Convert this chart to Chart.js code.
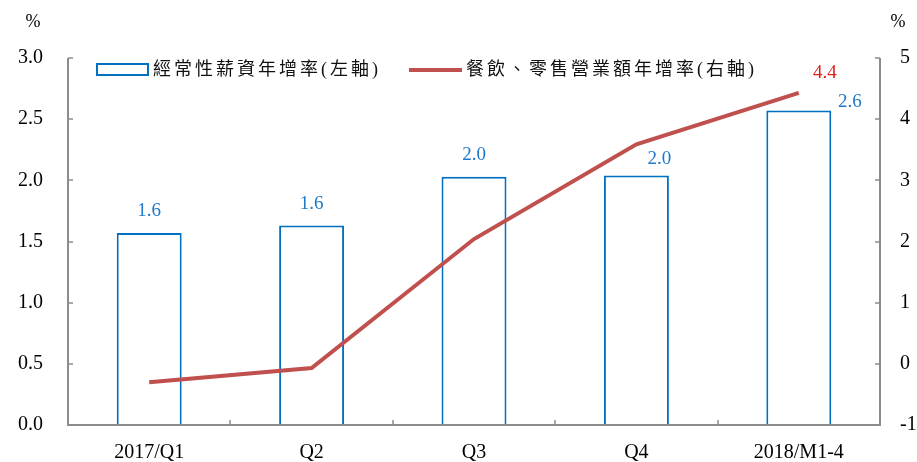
<!DOCTYPE html>
<html>
<head>
<meta charset="utf-8">
<script src="https://cdn.jsdelivr.net/npm/chart.js@4/dist/chart.umd.min.js"></script>
<style>
html,body{margin:0;padding:0;background:#fff;}
#wrap{width:917px;height:462px;position:relative;}
</style>
</head>
<body>
<div id="wrap"><canvas id="c" width="917" height="462"></canvas></div>
<script>
// ---- data ----
const categories = ["2017/Q1", "Q2", "Q3", "Q4", "2018/M1-4"];
const wageGrowth = [1.57, 1.63, 2.03, 2.04, 2.57];          // left axis, bars
const salesGrowth = [-0.30, -0.07, 2.04, 3.59, 4.43];       // right axis, line
const wageLabels = ["1.6", "1.6", "2.0", "2.0", "2.6"];
const salesLabels = [null, null, null, null, "4.4"];
const wageName = "經常性薪資年增率(左軸)";
const salesName = "餐飲、零售營業額年增率(右軸)";
const leftTicks = [0, 0.5, 1, 1.5, 2, 2.5, 3];
const rightTicks = [-1, 0, 1, 2, 3, 4, 5];

// ---- styles ----
const SERIF = '"Liberation Serif", "Times New Roman", serif';
const CJK = '"Liberation Serif", "Noto Sans CJK TC", serif';
const BLUE = '#0070C0';
const BLUE_TXT = '#1F78C8';
const RED_LINE = '#C0504D';
const RED_TXT = '#E0201E';
const AXIS = '#8C8C8C';
// label offsets (dx, dy from element top) for bar labels
const barLabelOffset = [[0,-22],[0,-22],[0,-22],[23,-16],[51,-9]];
const lineLabelOffset = [[26,-20]];

const overlay = {
  id: 'overlay',
  afterDatasetsDraw(chart) {
    const ctx = chart.ctx;
    const ca = chart.chartArea;
    const yL = chart.scales.y, yR = chart.scales.y1, x = chart.scales.x;
    ctx.save();
    // axis lines
    ctx.strokeStyle = AXIS;
    ctx.lineWidth = 2;
    ctx.beginPath();
    ctx.moveTo(ca.left, ca.top); ctx.lineTo(ca.left, ca.bottom);
    ctx.lineTo(ca.right, ca.bottom); ctx.lineTo(ca.right, ca.top);
    ctx.stroke();
    ctx.lineWidth = 1.5;
    ctx.beginPath();
    leftTicks.forEach(v => { const p = Math.round(yL.getPixelForValue(v)); ctx.moveTo(ca.left, p); ctx.lineTo(ca.left + 5, p); });
    rightTicks.forEach(v => { const p = Math.round(yR.getPixelForValue(v)); ctx.moveTo(ca.right, p); ctx.lineTo(ca.right - 5, p); });
    for (let i = 1; i < categories.length; i++) {
      const p = Math.round((x.getPixelForValue(i - 1) + x.getPixelForValue(i)) / 2);
      ctx.moveTo(p, ca.bottom); ctx.lineTo(p, ca.bottom - 5);
    }
    ctx.stroke();

    // data labels
    ctx.font = '19px ' + SERIF;
    ctx.textAlign = 'center';
    ctx.textBaseline = 'middle';
    ctx.fillStyle = BLUE_TXT;
    chart.getDatasetMeta(0).data.forEach((el, i) => {
      if (!wageLabels[i]) return;
      const o = barLabelOffset[i];
      ctx.fillText(wageLabels[i], el.x + o[0], el.y + o[1]);
    });
    ctx.fillStyle = RED_TXT;
    chart.getDatasetMeta(1).data.forEach((el, i) => {
      if (!salesLabels[i]) return;
      const o = lineLabelOffset[0];
      ctx.fillText(salesLabels[i], el.x + o[0], el.y + o[1]);
    });

    // percent unit labels
    ctx.fillStyle = '#000';
    ctx.font = '18px ' + SERIF;
    ctx.fillText('%', 33, 22);
    ctx.fillText('%', 898, 22);

    // legend
    const ly = 70;
    ctx.strokeStyle = BLUE; ctx.lineWidth = 2;
    ctx.fillStyle = '#fff';
    ctx.fillRect(97, 64, 51, 11);
    ctx.strokeRect(97, 64, 51, 11);
    ctx.strokeStyle = RED_LINE; ctx.lineWidth = 4;
    ctx.beginPath(); ctx.moveTo(409, ly); ctx.lineTo(462, ly); ctx.stroke();
    ctx.fillStyle = '#111';
    ctx.font = '18px ' + CJK;
    ctx.textAlign = 'left';
    try { ctx.letterSpacing = '3px'; } catch(e) {}
    ctx.fillText(wageName, 153, ly);
    ctx.fillText(salesName, 466, ly);
    ctx.restore();
  }
};

new Chart(document.getElementById('c'), {
  type: 'bar',
  data: {
    labels: categories,
    datasets: [
      {
        type: 'bar', label: wageName, data: wageGrowth, yAxisID: 'y',
        backgroundColor: '#fff', borderColor: BLUE, borderWidth: 2,
        barPercentage: 0.8, categoryPercentage: 0.5, order: 2
      },
      {
        type: 'line', label: salesName, data: salesGrowth, yAxisID: 'y1',
        borderColor: RED_LINE, borderWidth: 4, pointRadius: 0, tension: 0,
        fill: false, order: 1
      }
    ]
  },
  options: {
    responsive: false, animation: false, devicePixelRatio: 1,
    layout: { padding: { top: 58, left: 0, right: 0, bottom: 0 } },
    plugins: { legend: { display: false }, tooltip: { enabled: false } },
    scales: {
      x: {
        offset: true,
        grid: { display: false },
        border: { display: false },
        ticks: { color: '#000', font: { family: SERIF, size: 20 }, padding: 8, maxRotation: 0 },
        afterFit(s) { s.height = 37; }
      },
      y: {
        position: 'left', min: 0, max: 3,
        afterBuildTicks(s) { s.ticks = leftTicks.map(v => ({ value: v })); },
        grid: { display: false }, border: { display: false },
        ticks: { color: '#000', font: { family: SERIF, size: 20 }, padding: 17,
                 callback: v => Number(v).toFixed(1) },
        afterFit(s) { s.width = 68; }
      },
      y1: {
        position: 'right', min: -1, max: 5,
        afterBuildTicks(s) { s.ticks = rightTicks.map(v => ({ value: v })); },
        grid: { display: false }, border: { display: false },
        ticks: { color: '#000', font: { family: SERIF, size: 20 }, padding: 12,
                 callback: v => String(v) },
        afterFit(s) { s.width = 37; }
      }
    }
  },
  plugins: [overlay]
});
</script>
</body>
</html>
